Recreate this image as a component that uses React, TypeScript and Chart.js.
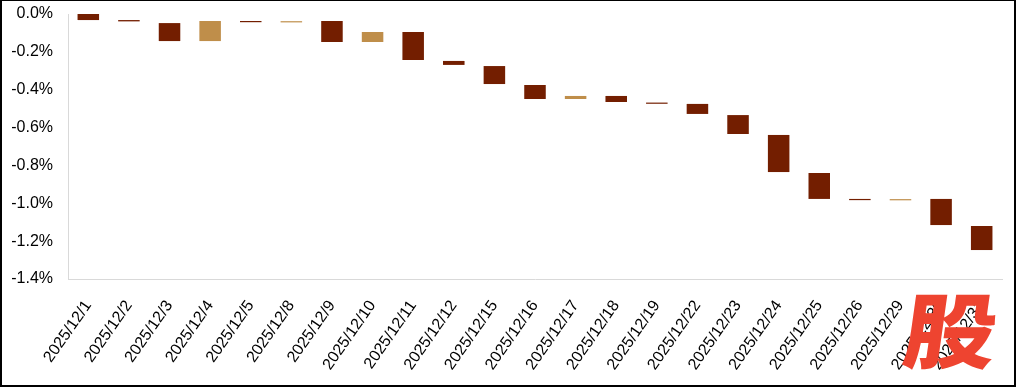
import React, { useEffect, useRef } from "react";
import { Chart, registerables } from "chart.js";

Chart.register(...registerables);

const categories = [
  "2025/12/1", "2025/12/2", "2025/12/3", "2025/12/4", "2025/12/5",
  "2025/12/8", "2025/12/9", "2025/12/10", "2025/12/11", "2025/12/12",
  "2025/12/15", "2025/12/16", "2025/12/17", "2025/12/18", "2025/12/19",
  "2025/12/22", "2025/12/23", "2025/12/24", "2025/12/25", "2025/12/26",
  "2025/12/29", "2025/12/30", "2025/12/31",
];

// floating waterfall bars (in %): start and end of each day
const barStarts = [
  0, -0.032, -0.048, -0.143, -0.037,
  -0.039, -0.037, -0.148, -0.095, -0.248,
  -0.275, -0.375, -0.449, -0.433, -0.468,
  -0.475, -0.534, -0.639, -0.84, -0.977,
  -0.98, -0.977, -1.12,
];
const barEnds = [
  -0.032, -0.039, -0.143, -0.037, -0.039,
  -0.038, -0.148, -0.095, -0.243, -0.269,
  -0.37, -0.449, -0.433, -0.465, -0.472,
  -0.528, -0.634, -0.835, -0.977, -0.98,
  -0.978, -1.115, -1.247,
];

const yTicks = [0, -0.2, -0.4, -0.6, -0.8, -1.0, -1.2, -1.4];

const DOWN_COLOR = "#731E00";
const UP_COLOR = "#BF8E4A";

export default function App() {
  const canvasRef = useRef<HTMLCanvasElement | null>(null);

  useEffect(() => {
    document.body.style.margin = "0";
    const canvas = canvasRef.current;
    if (!canvas) return;
    const data = categories.map((_, i) => [barStarts[i], barEnds[i]]);
    const colors = categories.map((_, i) =>
      barEnds[i] > barStarts[i] ? UP_COLOR : DOWN_COLOR
    );
    const chart = new Chart(canvas, {
      type: "bar",
      data: {
        labels: categories,
        datasets: [
          {
            data: data as any,
            backgroundColor: colors,
            borderWidth: 0,
            barPercentage: 0.53,
            categoryPercentage: 1,
            minBarLength: 1.2,
          },
        ],
      },
      options: {
        responsive: false,
        animation: false,
        layout: { padding: { left: 0, top: 14, right: 14, bottom: 0 } },
        plugins: {
          legend: { display: false },
          tooltip: { enabled: false },
        },
        scales: {
          x: {
            grid: { display: false, drawTicks: false },
            border: { display: true, color: "#D9D9D9", width: 1 },
            ticks: {
              minRotation: 55,
              maxRotation: 55,
              autoSkip: false,
              padding: 18,
              color: "#000",
              font: { family: "'Liberation Sans', Arial, sans-serif", size: 16 },
            },
            afterFit: (scale: any) => {
              scale.height = 387 - 279;
              scale.paddingTop = 0;
              scale.paddingBottom = 0;
            },
          },
          y: {
            min: -1.4,
            max: 0,
            afterBuildTicks: (scale: any) => {
              scale.ticks = yTicks.map((v) => ({ value: v }));
            },
            grid: { display: false, drawTicks: false },
            border: { display: true, color: "#D9D9D9", width: 1 },
            ticks: {
              padding: 15,
              color: "#000",
              font: { family: "'Liberation Sans', Arial, sans-serif", size: 16 },
              callback: (v: any) => `${Math.abs(v) < 1e-9 ? "0.0" : Number(v).toFixed(1)}%`,
            },
            afterFit: (scale: any) => {
              scale.width = 68;
              scale.paddingTop = 0;
              scale.paddingBottom = 0;
            },
          },
        },
      },
    });
    return () => chart.destroy();
  }, []);

  return (
    <div style={{ position: "relative", width: 1016, height: 387, background: "#fff", overflow: "hidden" }}>
      <canvas ref={canvasRef} width={1016} height={387} style={{ position: "absolute", left: 0, top: 0 }} />
      <span
        style={{
          position: "absolute",
          left: 911,
          top: 286,
          fontFamily: "'Noto Sans CJK SC', sans-serif",
          fontWeight: 900,
          fontSize: 82,
          lineHeight: 1,
          color: "#EE4430",
          transform: "skewX(-8deg) scaleX(1.13)",
          transformOrigin: "left top",
          pointerEvents: "none",
        }}
      >
        股
      </span>
      <div
        style={{
          position: "absolute",
          left: 0,
          top: 0,
          width: 1016,
          height: 387,
          boxSizing: "border-box",
          borderStyle: "solid",
          borderColor: "#000",
          borderWidth: "1px 2px 2px 2px",
          pointerEvents: "none",
        }}
      />
    </div>
  );
}
